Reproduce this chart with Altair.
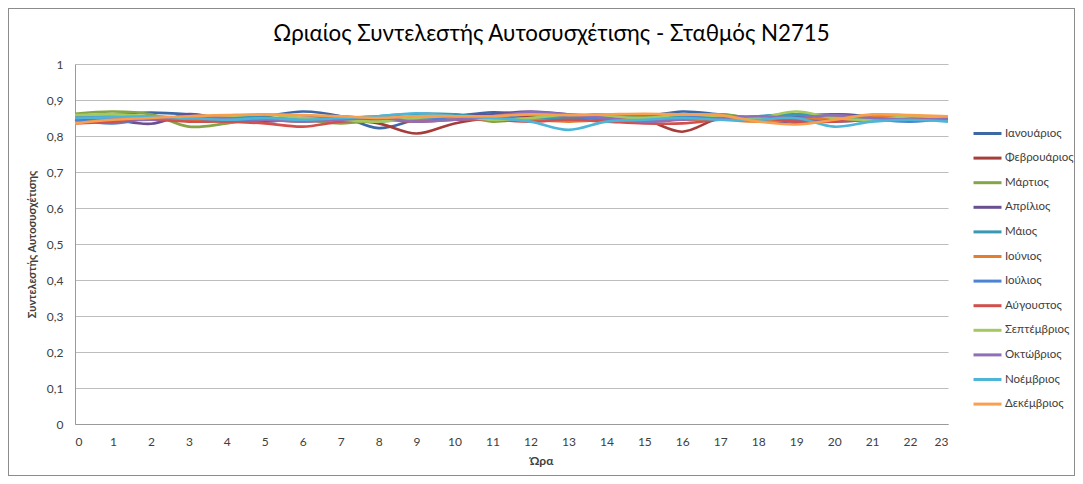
import altair as alt
import pandas as pd

hours = list(range(24))
months = ["Ιανουάριος", "Φεβρουάριος", "Μάρτιος", "Απρίλιος", "Μάιος", "Ιούνιος",
          "Ιούλιος", "Αύγουστος", "Σεπτέμβριος", "Οκτώβριος", "Νοέμβριος", "Δεκέμβριος"]
colors = ["#3D68A6", "#A63D3A", "#84A445", "#6B5091", "#3A98B3", "#E27E2E",
          "#4E82D2", "#D2504C", "#A6C860", "#8E70B8", "#4DB6D8", "#F9A04E"]

jan = [0.855,0.86,0.865,0.86,0.85,0.855,0.868,0.855,0.822,0.845,0.855,0.866,0.86,0.855,0.86,0.855,0.868,0.86,0.85,0.855,0.86,0.855,0.85,0.848]
feb = [0.845,0.85,0.85,0.845,0.845,0.845,0.85,0.845,0.835,0.807,0.835,0.85,0.855,0.85,0.85,0.845,0.812,0.85,0.85,0.845,0.845,0.85,0.855,0.85]
mar = [0.862,0.868,0.86,0.826,0.835,0.85,0.845,0.835,0.845,0.855,0.86,0.84,0.85,0.855,0.86,0.855,0.855,0.86,0.85,0.86,0.855,0.85,0.85,0.852]
apr = [0.85,0.845,0.834,0.861,0.845,0.84,0.85,0.855,0.845,0.845,0.855,0.86,0.868,0.86,0.845,0.84,0.85,0.855,0.845,0.835,0.86,0.85,0.845,0.85]
may = [0.855,0.855,0.85,0.845,0.855,0.85,0.84,0.85,0.855,0.862,0.86,0.85,0.845,0.85,0.855,0.86,0.855,0.85,0.855,0.86,0.85,0.845,0.848,0.85]
jun = [0.84,0.845,0.85,0.845,0.84,0.845,0.84,0.845,0.85,0.845,0.845,0.85,0.845,0.84,0.845,0.85,0.845,0.845,0.84,0.845,0.85,0.855,0.85,0.845]
jul = [0.845,0.835,0.85,0.85,0.84,0.845,0.85,0.85,0.84,0.85,0.845,0.85,0.86,0.855,0.845,0.84,0.85,0.855,0.85,0.845,0.84,0.845,0.84,0.848]
aug = [0.835,0.84,0.845,0.84,0.84,0.835,0.826,0.84,0.845,0.84,0.845,0.845,0.84,0.845,0.84,0.835,0.835,0.845,0.85,0.84,0.84,0.845,0.85,0.848]
sep = [0.858,0.86,0.855,0.85,0.855,0.86,0.85,0.845,0.84,0.85,0.855,0.845,0.85,0.86,0.855,0.85,0.86,0.855,0.85,0.868,0.85,0.845,0.855,0.85]
oct_ = [0.85,0.85,0.845,0.855,0.85,0.845,0.84,0.845,0.85,0.84,0.845,0.855,0.866,0.86,0.85,0.84,0.845,0.85,0.855,0.85,0.858,0.85,0.845,0.848]
nov = [0.85,0.852,0.855,0.85,0.845,0.85,0.845,0.85,0.855,0.863,0.855,0.85,0.84,0.817,0.84,0.845,0.85,0.845,0.845,0.85,0.826,0.84,0.845,0.84]
dec = [0.835,0.845,0.85,0.855,0.858,0.86,0.858,0.855,0.85,0.855,0.855,0.855,0.86,0.858,0.86,0.862,0.86,0.858,0.84,0.832,0.845,0.86,0.858,0.855]

series = [jan, feb, mar, apr, may, jun, jul, aug, sep, oct_, nov, dec]
rows = []
for m, vals in zip(months, series):
    for h, v in zip(hours, vals):
        rows.append({"Ώρα": h, "Μήνας": m, "r": v})
df = pd.DataFrame(rows)

FONT = "Lato"
W, H = 873, 360
PL, PT, PR, PB = 67, 56, 127, 52

lines = alt.Chart(df).mark_line(strokeWidth=2.6, interpolate="catmull-rom").encode(
    x=alt.X("Ώρα:Q", scale=alt.Scale(domain=[0, 23], nice=False),
            axis=alt.Axis(values=hours, grid=False, ticks=False, labelPadding=12,
                          labelFontSize=12, labelColor="#404040", domainColor="#9a9a9a",
                          title="Ώρα", titleFontSize=12, titleFontWeight="bold",
                          titleColor="#404040", titlePadding=8, titleX=466)),
    y=alt.Y("r:Q", scale=alt.Scale(domain=[0, 1], nice=False),
            axis=alt.Axis(values=[i / 10 for i in range(11)],
                          labelExpr="replace(format(datum.value, '.1~f'), '.', ',')",
                          ticks=False, labelPadding=12, labelFontSize=12, labelColor="#404040",
                          gridColor="#bdbdbd", gridWidth=1, domainColor="#9a9a9a",
                          title="Συντελεστής Αυτοσυσχέτισης", titleFontSize=11,
                          titleFontWeight="bold", titleColor="#404040", titlePadding=9)),
    color=alt.Color("Μήνας:N", sort=months,
                    scale=alt.Scale(domain=months, range=colors),
                    legend=alt.Legend(title=None, orient="none", legendX=897, legendY=54,
                                      symbolType="stroke", symbolSize=784, symbolStrokeWidth=3,
                                      labelFontSize=11.5, labelColor="#404040", rowPadding=2.6,
                                      labelOffset=2, padding=0)),
    order=alt.value(0),
)

frame = alt.Chart(df).mark_rect(fill=None, stroke="#8c8c8c", strokeWidth=1).encode(
    x=alt.value(-PL + 0.5), x2=alt.value(W + PR - 0.5),
    y=alt.value(-PT + 0.5), y2=alt.value(H + PB - 0.5),
)

chart = alt.layer(frame, lines).properties(
    width=W, height=H,
    title=alt.TitleParams("Ωριαίος Συντελεστής Αυτοσυσχέτισης - Σταθμός Ν2715",
                          fontSize=22.3, font=FONT, fontWeight="normal", color="#000000",
                          anchor="middle", offset=0, dy=37, dx=40),
    autosize=alt.AutoSizeParams(type="none"),
    padding={"left": PL, "top": PT, "right": PR, "bottom": PB},
).configure(font=FONT).configure_view(stroke=None)

chart.save("out.html", embed_options={"renderer": "svg", "actions": False})
